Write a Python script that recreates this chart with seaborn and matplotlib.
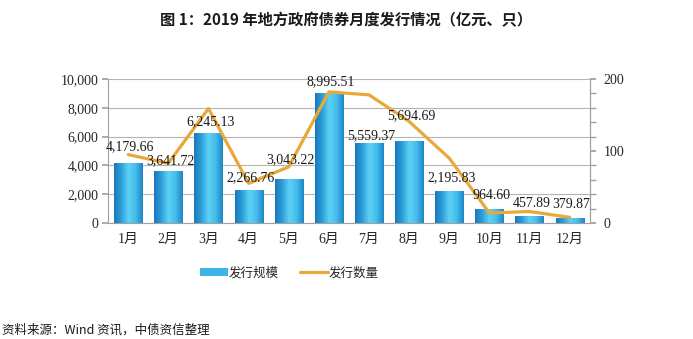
import numpy as np
import pandas as pd
import matplotlib
matplotlib.use("Agg")
import matplotlib.pyplot as plt
from matplotlib.colors import LinearSegmentedColormap
from matplotlib.patches import Patch
from matplotlib.lines import Line2D
import seaborn as sns

# 2019 local government bond issuance by month
months = ["1月", "2月", "3月", "4月", "5月", "6月", "7月", "8月", "9月", "10月", "11月", "12月"]
amount = [4179.66, 3641.72, 6245.13, 2266.76, 3043.22, 8995.51,
          5559.37, 5694.69, 2195.83, 964.60, 457.89, 379.87]   # 亿元
count = [95, 83, 159, 55, 78, 182, 178, 141, 90, 14, 16, 8]     # 只

sns.set_theme(style="white")
plt.rcParams["font.family"] = ["Liberation Serif", "Noto Sans CJK SC", "DejaVu Sans"]
CJK = ["Noto Sans CJK SC", "DejaVu Sans"]
SERIF = ["Liberation Serif", "Noto Sans CJK SC"]

df = pd.DataFrame({"month": months, "amount": amount, "count": count})

fig = plt.figure(figsize=(6.93, 3.39), dpi=100)
ax = fig.add_axes([0.156, 0.342, 0.695, 0.425])

sns.barplot(data=df, x="month", y="amount", ax=ax, color="#2ea6dc",
            width=0.7, saturation=1, zorder=2)

# cylinder-like shading on each bar
shade = LinearSegmentedColormap.from_list(
    "bar_shade", ["#1b78bb", "#2f9fda", "#5fd2f6", "#44bdec", "#1f86c6"])
grad = np.linspace(0, 1, 64).reshape(1, -1)
for p in ax.patches:
    x0, y0 = p.get_x(), p.get_y()
    w, h = p.get_width(), p.get_height()
    im = ax.imshow(grad, cmap=shade, aspect="auto",
                   extent=(x0, x0 + w, y0, y0 + h), zorder=2.1)
    im.set_clip_path(p)
ax.set_xlim(-0.5, 11.5)

ax.set_ylim(0, 10000)
ax.set_yticks(np.arange(0, 10001, 2000))
ax.set_yticklabels([f"{v:,}" for v in range(0, 10001, 2000)], family=SERIF, fontsize=10)
ax.yaxis.grid(True, color="#b4b4b4", linewidth=0.8, zorder=0)
ax.set_axisbelow(True)
ax.set_xlabel("")
ax.set_ylabel("")
ax.set_xticks(range(12))
ax.set_xticklabels(months, family=SERIF, fontsize=10)
ax.set_xticks(np.arange(-0.5, 12, 1), minor=True)
ax.tick_params(axis="x", which="major", length=0, pad=7)
ax.tick_params(axis="x", which="minor", length=4, color="#a0a0a0", direction="out")
ax.tick_params(axis="y", length=4, color="#a0a0a0", direction="out", pad=3, left=True)
for s in ["left", "bottom", "right"]:
    ax.spines[s].set_color("#a0a0a0")
    ax.spines[s].set_linewidth(0.8)
ax.spines["top"].set_visible(False)

ax2 = ax.twinx()
sns.lineplot(x=np.arange(12), y=count, ax=ax2, color="#e8a83a", linewidth=2.3,
             zorder=3)
ax2.set_ylim(0, 200)
ax2.set_yticks([0, 100, 200])
ax2.set_yticklabels(["0", "100", "200"], family=SERIF, fontsize=10)
ax2.set_yticks(np.arange(0, 201, 20), minor=True)
ax2.tick_params(axis="y", which="both", length=4, color="#a0a0a0", direction="out",
                right=True, pad=6)
ax2.set_ylabel("")
for s in ["left", "bottom", "top"]:
    ax2.spines[s].set_visible(False)
ax2.spines["right"].set_color("#a0a0a0")
ax2.spines["right"].set_linewidth(0.8)
ax2.grid(False)

# value labels above bars, drawn over the line
lift = [10, 3, 5, 6, 13, 5, 1, 19, 7, 7, 6, 7]
for i, v in enumerate(amount):
    ax2.annotate(f"{v:,.2f}", (i, v), xycoords=ax.transData, xytext=(2, lift[i]),
                 textcoords="offset pixels", ha="center", va="bottom", fontsize=10,
                 family=SERIF, color="#1a1a1a", zorder=5)

# legend
handles = [Patch(facecolor="#3cb4e6", edgecolor="none"),
           Line2D([0], [0], color="#e8a83a", linewidth=2.3)]
fig.legend(handles, ["发行规模", "发行数量"], loc="center", bbox_to_anchor=(0.418, 0.195),
           ncol=2, frameon=False, prop={"family": CJK, "size": 9},
           handlelength=2.2, handletextpad=0.1, columnspacing=1.7)

fig.text(0.5, 0.94, "图 1：2019 年地方政府债券月度发行情况（亿元、只）", ha="center",
         va="center", fontsize=11, fontweight="bold", family=CJK, color="#1a1a1a")
fig.text(0.003, 0.025, "资料来源：Wind 资讯，中债资信整理", ha="left", va="center",
         fontsize=9, family=CJK, color="#1a1a1a")

fig.savefig("out.png", dpi=100, facecolor="white")
